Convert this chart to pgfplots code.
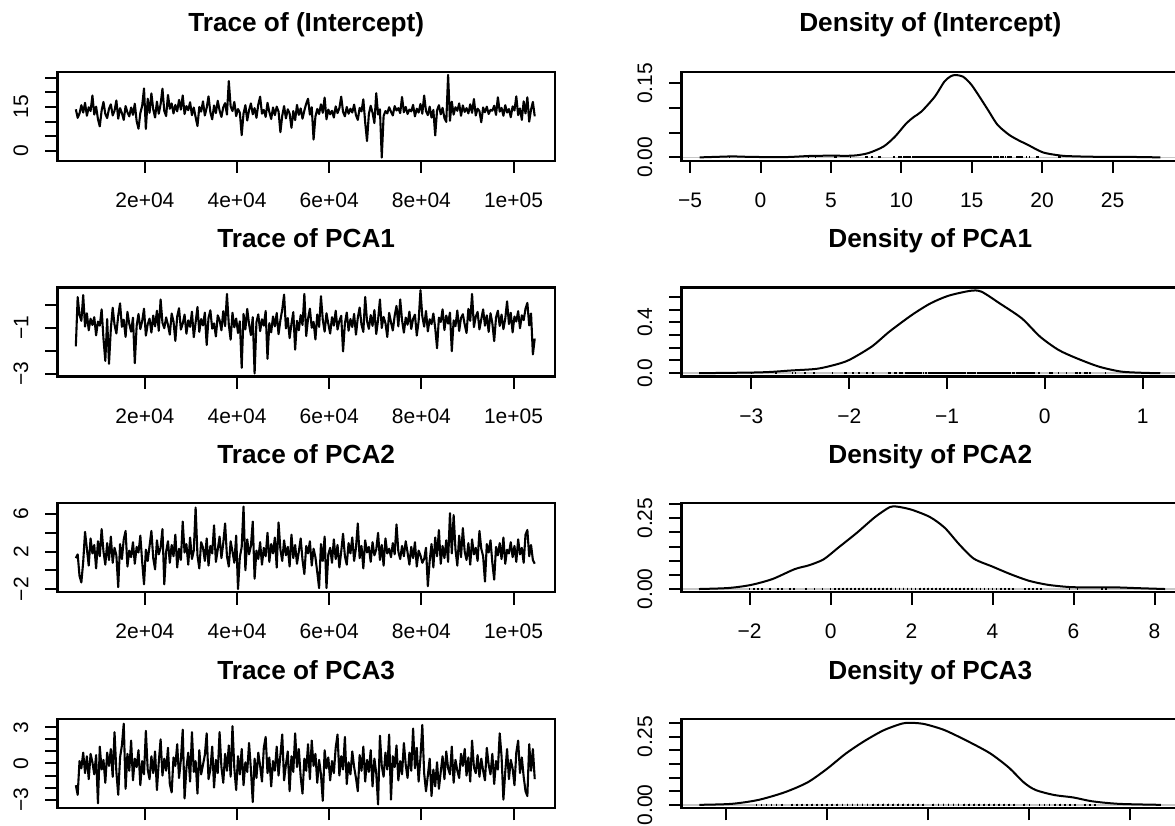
\documentclass[border=0pt]{standalone}
\usepackage{fontspec}
\setmainfont{Liberation Sans}
\usepackage{pgfplots}
\usepackage{pgfplotstable}
\pgfplotsset{compat=1.18}

% thinned MCMC chain: iteration, (Intercept), PCA1, PCA2, PCA3
\pgfplotstableread{
it icpt pca1 pca2 pca3
5000 14.2 -1.82 1.3 -1.8
5400 11.3 0.32 1.7 -2.6
5800 12.8 -0.45 -0.6 0.2
6200 15.6 -0.71 -1.3 -0.4
6600 13.1 0.41 0.9 0.9
7000 16.4 -0.96 4.1 -0.8
7400 12.0 -0.38 2.3 0.6
7800 14.9 -1.12 0.5 -1.3
8200 13.6 -0.62 3.4 0.8
8600 18.9 -0.89 1.8 0.1
9000 12.4 -0.55 2.7 -0.9
9400 15.1 -1.34 0.2 0.7
9800 10.9 -0.74 3.1 -3.3
10200 8.4 -0.92 1.5 1.4
10600 13.8 -0.21 4.4 -0.5
11000 16.7 -1.48 2.0 0.3
11400 12.6 -2.45 0.6 -1.6
11800 11.2 -0.63 2.9 0.9
12200 14.4 -2.58 1.1 -0.2
12600 15.9 -1.05 3.6 1.2
13000 12.1 -0.14 0.8 -1.1
13400 13.7 -0.88 2.4 2.6
13800 17.2 -1.26 1.6 -0.7
14200 11.0 -0.49 -1.8 -2.6
14600 14.6 0.05 2.8 0.5
15000 12.9 -0.97 1.2 1.5
15400 10.6 -0.66 3.3 3.3
15800 15.3 -1.41 4.2 -2.1
16200 13.2 -0.32 0.4 0.8
16600 11.8 -0.84 2.1 -0.6
17000 14.8 -1.18 1.4 1.9
17400 12.3 -0.57 3.0 -1.4
17800 16.1 -2.55 0.7 0.4
18200 10.2 -0.93 2.5 -0.3
18600 7.6 -0.41 1.9 1.1
19000 12.9 -1.07 3.7 -1.8
19400 15.4 -0.72 0.9 0.2
19800 21.3 -0.18 -1.5 -0.9
20200 7.5 -1.35 2.2 2.7
20600 17.8 -0.86 1.0 -0.5
21000 13.0 -0.61 2.6 -1.3
21400 19.6 -1.22 4.2 0.6
21800 14.2 -0.48 1.3 -0.8
22200 11.4 -0.95 0.1 1.0
22600 16.8 -0.27 3.2 -2.2
23000 12.7 -1.14 1.7 0.1
23400 15.9 0.22 2.4 2.0
23800 21.2 -0.79 4.4 -1.0
24200 13.6 -1.03 -1.5 0.4
24600 11.9 -0.56 2.0 -0.6
25000 19.1 -0.88 3.1 1.3
25400 14.4 -1.31 0.8 -1.7
25800 16.2 -0.39 2.7 -2.4
26200 12.8 -0.74 1.5 0.5
26600 15.7 -1.58 3.8 -0.2
27000 13.5 -0.52 0.3 1.6
27400 17.4 -0.16 2.3 -1.2
27800 14.1 -1.09 1.1 0.3
28200 18.9 -0.83 5.2 2.8
28600 12.6 -0.44 1.9 -2.9
29000 15.3 -1.27 2.8 -0.4
29400 13.9 -0.69 0.6 0.9
29800 16.6 -0.97 3.5 -1.5
30200 12.2 -0.31 1.2 2.6
30600 14.8 -1.42 2.1 -0.7
31000 11.5 -0.78 6.7 0.2
31400 8.5 -0.11 1.6 -2.5
31800 15.0 -1.19 0.2 1.1
32200 13.4 -0.63 3.0 -0.9
32600 16.9 -0.91 2.4 -0.1
33000 12.1 -0.35 1.0 0.7
33400 14.7 -1.76 3.4 2.5
33800 18.6 -0.58 0.5 -1.3
34200 13.2 -0.25 2.6 -0.5
34600 10.8 -1.05 1.8 1.4
35000 15.5 -0.82 4.8 -2.0
35400 12.9 -1.39 0.9 0.3
35800 17.1 -0.47 2.2 -0.8
36200 13.8 -0.68 3.6 2.6
36600 11.6 -1.12 1.3 -0.3
37000 14.9 -0.29 2.9 -1.6
37400 16.3 -0.94 5.0 0.8
37800 12.4 0.46 1.5 -0.6
38200 23.8 -0.87 0.4 1.5
38600 15.2 -1.53 3.1 -1.1
39000 13.6 -0.36 2.0 3.1
39400 16.7 -0.99 0.8 -0.4
39800 11.9 -0.61 3.7 -2.2
40200 14.3 -1.24 -2.0 0.6
40600 13.0 -0.73 1.4 -0.9
41000 5.4 -2.75 2.5 1.2
41400 12.8 -0.41 6.8 -1.8
41800 15.6 -1.08 0.0 0.1
42200 10.4 -0.19 3.3 -0.7
42600 13.9 -0.86 1.7 1.7
43000 16.2 -1.33 2.6 -0.5
43400 12.5 -0.55 5.2 -3.2
43800 14.6 -3.00 -0.9 0.4
44200 11.3 -0.77 2.1 -1.2
44600 15.8 -0.43 1.2 0.9
45000 18.5 -1.16 3.0 -0.2
45400 12.7 -0.64 0.6 -1.5
45800 14.0 -0.92 2.4 1.3
46200 11.6 -0.28 1.5 2.2
46600 16.4 -2.36 4.0 -0.8
47000 13.3 -0.81 0.9 0.5
47400 10.9 -1.21 2.8 -1.9
47800 14.8 -0.52 1.8 0.2
48200 12.2 -0.95 3.5 -0.6
48600 15.1 -0.37 0.3 1.4
49000 13.4 -1.29 5.1 -1.0
49400 6.4 -0.68 2.2 0.7
49800 12.0 -0.22 1.0 2.4
50200 15.3 0.43 3.2 -1.4
50600 11.1 -1.04 1.6 -0.1
51000 14.2 -0.59 2.5 1.0
51400 12.8 -1.46 0.4 -2.3
51800 7.9 -0.84 3.8 0.6
52200 13.6 -0.33 1.3 -0.7
52600 10.5 -1.96 2.7 2.5
53000 15.7 -0.71 0.7 -0.3
53400 12.3 -1.12 2.0 1.2
53800 14.5 -0.46 3.4 -1.1
54200 11.0 -0.89 1.1 -2.5
54600 13.8 0.46 -0.4 0.4
55000 16.1 -1.37 2.6 -0.6
55400 17.8 -0.62 1.8 1.6
55800 12.4 -0.18 3.1 -1.3
56200 14.9 -1.01 0.5 1.9
56600 3.9 -0.75 2.3 -0.2
57000 11.7 -1.52 1.4 0.8
57400 14.3 -0.43 -0.2 -1.6
57800 12.6 -0.97 -1.9 0.3
58200 15.9 0.36 2.8 -0.9
58600 13.0 -0.66 1.0 -3.1
59000 18.2 -1.18 3.6 1.1
59400 10.8 -0.38 -1.9 -0.4
59800 14.1 -0.84 1.7 0.5
60200 12.5 -1.26 2.4 -1.4
60600 13.7 -0.55 0.8 0.2
61000 11.4 -0.92 3.3 -0.8
61400 15.2 -0.27 1.2 1.3
61800 12.9 -1.09 2.7 2.4
62200 14.6 -0.71 0.3 -1.0
62600 18.5 -0.49 2.0 0.6
63000 13.3 -2.04 3.9 -0.5
63400 11.8 -0.82 1.5 2.2
63800 15.0 -0.35 0.6 -1.7
64200 12.7 -1.14 2.9 0.1
64600 14.4 -0.63 1.8 -0.9
65000 13.1 -0.98 3.5 1.0
65400 15.8 -0.41 1.0 -0.3
65800 12.2 -1.31 2.4 -1.2
66200 10.6 -0.58 5.0 -2.3
66600 14.7 -0.13 1.3 0.7
67000 13.5 -0.87 2.6 -0.6
67400 17.6 -1.19 0.2 1.4
67800 9.8 0.33 3.2 -1.5
68200 3.4 -0.72 1.9 0.3
68600 12.6 -1.06 2.5 -0.7
69000 15.4 -0.46 0.9 1.1
69400 13.0 -0.93 3.0 -1.9
69800 9.5 -0.24 1.6 0.4
70200 19.7 -1.28 2.2 -0.8
70600 12.4 -0.67 4.0 -3.4
71000 14.2 0.22 1.1 2.3
71400 -2.2 -1.02 2.7 -0.2
71800 11.9 -0.54 0.5 -1.1
72200 13.6 -0.81 3.4 0.9
72600 12.8 -1.41 1.8 -0.5
73000 14.9 -0.36 2.3 2.4
73400 13.4 -0.77 1.4 -3.0
73800 12.1 -1.13 2.9 0.6
74200 15.3 -0.49 1.7 -0.3
74600 13.8 -0.06 4.9 1.5
75000 14.6 -0.95 2.0 -1.4
75400 12.9 0.22 1.2 0.2
75800 18.4 -0.68 2.6 -0.9
76200 13.2 -1.22 1.5 1.7
76600 15.0 -0.57 3.1 -0.1
77000 12.6 -0.88 1.9 -1.2
77400 14.1 -0.31 0.6 0.9
77800 13.5 -1.06 2.5 -0.6
78200 15.7 -0.62 1.3 2.9
78600 11.8 -0.44 3.0 -0.4
79000 14.4 -1.35 0.4 1.3
79400 13.1 -0.73 2.1 -1.5
79800 16.0 0.62 1.6 0.5
80200 12.7 -0.51 0.8 3.2
80600 18.9 -0.96 1.2 -0.8
81000 13.6 -0.28 2.4 -2.3
81400 12.2 -1.17 -1.7 -1.0
81800 15.1 -0.64 1.0 0.4
82200 11.4 -0.85 2.8 -2.7
82600 14.0 -0.39 0.3 -0.5
83000 5.3 -1.02 3.5 -1.9
83400 13.8 -1.90 1.5 0.1
83800 15.6 -0.57 4.3 -2.1
84200 12.5 -0.76 0.7 -0.7
84600 14.7 -0.21 2.6 0.6
85000 11.2 -1.11 1.3 -1.3
85400 9.9 -0.48 3.2 1.0
85800 25.9 -0.83 0.9 -0.4
86200 10.3 -0.35 6.1 -0.9
86600 16.8 -2.03 1.8 1.4
87000 12.4 -0.69 5.9 -1.6
87400 14.9 -0.94 2.2 0.3
87800 13.7 -0.26 0.5 -0.6
88200 16.2 -1.15 3.7 -1.2
88600 12.0 -0.58 1.4 0.8
89000 15.5 -0.42 4.5 -0.2
89400 13.3 -0.87 2.0 1.2
89800 14.6 -1.24 1.1 -1.0
90200 12.8 -0.19 2.9 0.5
90600 15.9 -0.71 0.6 -1.5
91000 13.0 0.46 3.3 1.9
91400 17.7 -0.98 1.7 -0.3
91800 12.1 -0.53 2.4 -0.8
92200 14.4 -0.32 1.0 0.7
92600 13.6 -1.08 4.2 -1.1
93000 9.8 -0.64 2.3 0.4
93400 14.8 -0.21 1.5 -0.6
93800 13.2 -0.92 -1.2 -1.4
94200 15.1 -0.47 2.8 1.3
94600 12.6 -1.19 1.9 -0.1
95000 14.0 -0.38 3.2 -0.9
95400 13.7 -0.81 0.8 0.8
95800 15.4 -1.59 -1.0 -1.7
96200 12.3 -0.56 2.5 0.2
96600 18.3 -0.27 1.6 -0.5
97000 13.4 -0.93 2.9 2.5
97400 14.7 -0.44 1.2 0.6
97800 12.0 -1.07 3.5 -3.0
98200 15.6 -0.62 0.7 -0.7
98600 13.1 0.14 2.2 1.2
99000 14.3 -0.85 1.8 -1.3
99400 11.5 -0.36 3.0 0.3
99800 15.2 -1.21 1.4 -0.4
100200 13.8 -0.52 2.6 -1.8
100600 18.6 -0.74 0.9 0.9
101000 12.2 -0.29 3.3 1.9
101400 14.5 -1.03 1.7 -0.8
101800 10.6 -0.47 2.4 0.5
102200 16.9 -0.68 0.8 -1.1
102600 12.8 -0.18 3.8 -2.3
103000 18.3 0.07 4.3 -2.7
103400 10.0 -0.91 1.5 1.6
103800 14.1 -0.39 2.7 -0.6
104200 16.7 -2.17 1.1 1.2
104600 11.8 -1.48 0.7 -1.3
}\chain

% kernel density estimates
\pgfplotstableread{
x d
-4.33 0
-3.0 0.0012
-2.0 0.0020
-1.0 0.0012
0.5 0.0006
2.0 0.0008
3.6 0.0030
5.0 0.0034
6.6 0.0036
7.66 0.0087
8.74 0.022
9.55 0.042
10.36 0.069
10.9 0.082
11.44 0.093
12.38 0.123
13.05 0.153
13.5 0.164
13.86 0.1667
14.40 0.163
14.95 0.148
15.48 0.126
16.2 0.094
16.83 0.066
17.64 0.046
18.3 0.035
18.98 0.0255
20.07 0.010
21.4 0.0034
22.5 0.0020
23.57 0.0013
25.0 0.0012
26.2 0.0010
28.4 0
}\densIcpt

\pgfplotstableread{
x d
-3.536 0
-3.0 0.005
-2.8 0.010
-2.6 0.021
-2.335 0.034
-2.15 0.065
-2.0 0.104
-1.77 0.209
-1.59 0.326
-1.36 0.457
-1.17 0.548
-0.986 0.608
-0.761 0.647
-0.648 0.640
-0.461 0.548
-0.236 0.431
-0.049 0.287
0.139 0.183
0.326 0.117
0.551 0.052
0.776 0.013
1.0 0.003
1.18 0
}\densA

\pgfplotstableread{
x d
-3.25 0
-2.53 0.0035
-1.98 0.014
-1.44 0.035
-0.89 0.070
-0.53 0.084
-0.17 0.105
0.19 0.146
0.645 0.198
1.097 0.254
1.46 0.289
1.64 0.291
2.0 0.280
2.455 0.254
2.82 0.216
3.18 0.157
3.54 0.107
4.0 0.079
4.45 0.052
4.9 0.029
5.36 0.015
5.9 0.007
6.5 0.0055
6.99 0.006
7.6 0.003
8.26 0
}\densB

\pgfplotstableread{
x d
-4.53 0
-3.89 0.0036
-3.36 0.018
-2.84 0.046
-2.39 0.082
-2.01 0.131
-1.63 0.188
-1.26 0.234
-0.884 0.273
-0.51 0.298
-0.28 0.300
-0.057 0.295
0.317 0.274
0.77 0.234
1.22 0.189
1.59 0.137
1.89 0.082
2.12 0.0545
2.49 0.036
2.87 0.027
3.24 0.013
3.77 0.0036
4.6 0
}\densC

\pgfplotsset{
  panel/.style={
    scale only axis, width=497.6pt, height=89pt,
    anchor=north west, enlargelimits=false, axis on top,
    axis line style={line width=2.2pt},
    tick align=outside, major tick length=12.3pt,
    tick style={black, line width=2pt},
    xtick pos=left, ytick pos=left,
    scaled x ticks=false, scaled y ticks=false,
    tick label style={font=\fontsize{21}{21}\selectfont, inner sep=0pt},
    xticklabel style={anchor=base, yshift=-34.3pt},
    yticklabel style={xshift=-16.6pt, rotate=90, anchor=south},
    title style={font=\fontsize{26.2}{26.2}\selectfont\bfseries,
      at={(0.5,1)}, anchor=base, yshift=34pt},
  },
  trace/.style={
    panel,
    xmin=1000, xmax=109000,
    xtick={20000,40000,60000,80000,100000},
    xticklabels={2e+04,4e+04,6e+04,8e+04,1e+05},
  },
  chainline/.style={black, line width=2.1pt, line join=round},
  densline/.style={black, line width=2pt, smooth, tension=0.45},
  rug/.style={black, only marks, mark=|, mark size=1.1pt, mark options={line width=1.7pt}},
  zeroline/.style={gray!45, line width=1.4pt},
}

\begin{document}
\begin{tikzpicture}
\path[use as bounding box] (0pt,0pt) rectangle (1175pt,-826pt);
\clip (0pt,0pt) rectangle (1175pt,-826pt);

% ---------- row 1 ----------
\begin{axis}[trace, at={(57.4pt,-71.7pt)},
  title={Trace of (Intercept)},
  ymin=-3.3, ymax=27.0,
  ytick={0,5,10,15,20,25}, yticklabels={0,{},{},15,{},{}}]
\addplot[chainline] table[x=it, y=icpt] {\chain};
\end{axis}

\begin{axis}[panel, at={(681.5pt,-71.7pt)},
  title={Density of (Intercept)},
  xmin=-5.611, xmax=29.73, ymin=-0.0067, ymax=0.1734,
  xtick={-5,0,5,10,15,20,25}, xticklabels={−5,0,5,10,15,20,25},
  ytick={0,0.05,0.1,0.15}, yticklabels={0.00,{},{},0.15}]
\addplot[zeroline] coordinates {(-5.611,0) (29.73,0)};
\addplot[rug] table[x=icpt, y expr=0] {\chain};
\addplot[densline] table[x=x, y=d] {\densIcpt};
\end{axis}

% ---------- row 2 ----------
\begin{axis}[trace, at={(57.4pt,-287.5pt)},
  title={Trace of PCA1},
  ymin=-3.13, ymax=0.74,
  ytick={-3,-2,-1,0}, yticklabels={−3,{},−1,{}}]
\addplot[chainline] table[x=it, y=pca1] {\chain};
\end{axis}

\begin{axis}[panel, at={(681.5pt,-287.5pt)},
  title={Density of PCA1},
  xmin=-3.715, xmax=1.373, ymin=-0.026, ymax=0.673,
  xtick={-3,-2,-1,0,1}, xticklabels={−3,−2,−1,0,1},
  ytick={0,0.1,0.2,0.3,0.4,0.5,0.6}, yticklabels={0.0,{},{},{},0.4,{},{}}]
\addplot[zeroline] coordinates {(-3.715,0) (1.373,0)};
\addplot[rug] table[x=pca1, y expr=0] {\chain};
\addplot[densline] table[x=x, y=d] {\densA};
\end{axis}

% ---------- row 3 ----------
\begin{axis}[trace, at={(57.4pt,-503.3pt)},
  title={Trace of PCA2},
  ymin=-2.35, ymax=7.15,
  ytick={-2,0,2,4,6}, yticklabels={−2,{},2,{},6}]
\addplot[chainline] table[x=it, y=pca2] {\chain};
\end{axis}

\begin{axis}[panel, at={(681.5pt,-503.3pt)},
  title={Density of PCA2},
  xmin=-3.682, xmax=8.607, ymin=-0.0116, ymax=0.3026,
  xtick={-2,0,2,4,6,8}, xticklabels={−2,0,2,4,6,8},
  ytick={0,0.05,0.1,0.15,0.2,0.25,0.3}, yticklabels={0.00,{},{},{},{},0.25,{}}]
\addplot[zeroline] coordinates {(-3.682,0) (8.607,0)};
\addplot[rug] table[x=pca2, y expr=0] {\chain};
\addplot[densline] table[x=x, y=d] {\densB};
\end{axis}

% ---------- row 4 (tick labels fall below the page edge) ----------
\begin{axis}[trace, at={(57.4pt,-719.1pt)},
  title={Trace of PCA3},
  xticklabels={},
  ymin=-3.7, ymax=3.68,
  ytick={-3,-2,-1,0,1,2,3}, yticklabels={−3,{},{},0,{},{},3}]
\addplot[chainline] table[x=it, y=pca3] {\chain};
\end{axis}

\begin{axis}[panel, at={(681.5pt,-719.1pt)},
  title={Density of PCA3},
  xmin=-4.882, xmax=4.962, ymin=-0.012, ymax=0.314,
  xtick={-4,-2,0,2,4}, xticklabels={},
  ytick={0,0.05,0.1,0.15,0.2,0.25,0.3}, yticklabels={0.00,{},{},{},{},0.25,{}}]
\addplot[zeroline] coordinates {(-4.882,0) (4.962,0)};
\addplot[rug] table[x=pca3, y expr=0] {\chain};
\addplot[densline] table[x=x, y=d] {\densC};
\end{axis}
\end{tikzpicture}
\end{document}
